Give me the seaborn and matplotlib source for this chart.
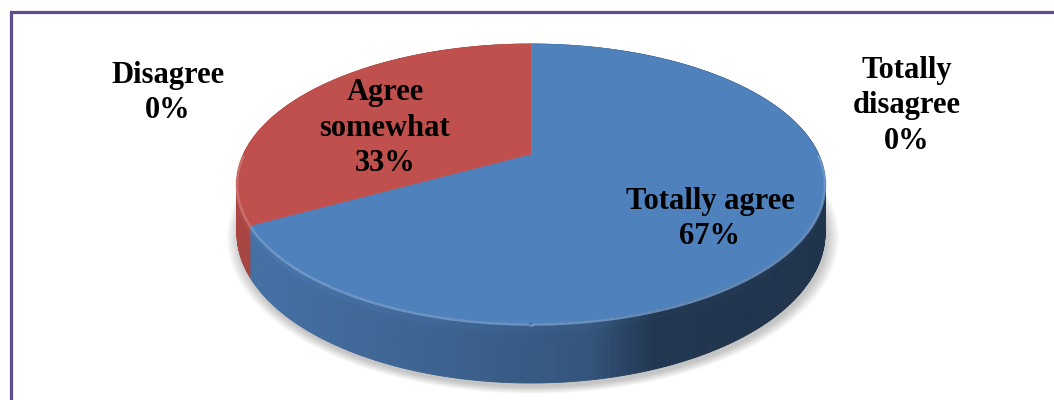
import numpy as np
import matplotlib
matplotlib.use("Agg")
import matplotlib.pyplot as plt
import seaborn as sns
from matplotlib.collections import PolyCollection, LineCollection
from matplotlib.patches import Polygon

# Survey answers and their shares (percent)
categories = ["Totally agree", "Agree somewhat", "Disagree", "Totally disagree"]
label_lines = ["Totally agree", "Agree\nsomewhat", "Disagree", "Totally\ndisagree"]
shares = [67, 33, 0, 0]
slice_hex = ["#4F81BD", "#C0504D", "#9BBB59", "#8064A2"]

sns.set_theme(style="white")
plt.rcParams["font.family"] = ["Liberation Serif", "DejaVu Serif"]
palette = np.array(sns.color_palette(slice_hex))

fig = plt.figure(figsize=(10.54, 4.0), dpi=100)
ax = fig.add_axes([0, 0, 1, 1])
ax.set_xlim(0, 1054)
ax.set_ylim(400, 0)
ax.axis("off")

# Perspective projection of a flat cylinder (pie disc) onto the canvas.
CX, CY = 531.0, 154.0
A, P, K = 287.4, -100.7, 0.2115
DEPTH = 47.3


def project(phi, z=0.0):
    """phi: angle clockwise from the back of the disc; z: 0 top face, 1 bottom."""
    u = np.sin(phi)
    v = np.cos(phi)
    w = 1.0 + K * v
    return CX + A * u / w, (CY + P * v + DEPTH * z) / w


fracs = np.asarray(shares, float) / np.sum(shares)
bounds = np.concatenate([[0.0], np.cumsum(fracs)]) * 2 * np.pi


def slice_of(phi):
    idx = np.searchsorted(bounds, phi, side="right") - 1
    return np.clip(idx, 0, len(shares) - 1)


# Soft drop shadow under the disc
bphi = np.linspace(0, 2 * np.pi, 400)
bx, by = project(bphi, 1.0)
bcx, bcy = bx.mean(), by.mean()
for i in range(10):
    grow = 1.0 + i * 0.0045
    sx = bcx + (bx - bcx) * grow + 2
    sy = bcy + (by - bcy) * grow + 4
    ax.add_patch(Polygon(np.column_stack([sx, sy]), closed=True,
                         facecolor="black", edgecolor="none", alpha=0.025, zorder=0))

# Side wall, shaded from left (lighter) to right (darker)
n = 720
phis = np.linspace(0, 2 * np.pi, n + 1)
zs = np.linspace(0, 1, 7)
polys, cols, depth_key = [], [], []
for a, b in zip(phis[:-1], phis[1:]):
    mid = 0.5 * (a + b)
    k = slice_of(mid)
    xm, _ = project(mid, 0.0)
    sxn = (xm - CX) / 294.0
    shade = np.interp(sxn, [-1, -0.3, 0.2, 0.42, 1], [0.88, 0.76, 0.65, 0.42, 0.40])
    for z0, z1 in zip(zs[:-1], zs[1:]):
        xa0, ya0 = project(a, z0)
        xb0, yb0 = project(b, z0)
        xa1, ya1 = project(a, z1)
        xb1, yb1 = project(b, z1)
        zc = 0.5 * (z0 + z1)
        f = shade * (1 + 0.16 * np.exp(-zc / 0.07))
        polys.append([(xa0, ya0), (xb0, yb0), (xb1, yb1), (xa1, ya1)])
        cols.append(np.clip(palette[k] * f, 0, 1))
        depth_key.append(-np.cos(mid))
order = np.argsort(depth_key, kind="stable")
polys = [polys[i] for i in order]
cols = [cols[i] for i in order]
ax.add_collection(PolyCollection(polys, facecolors=cols, edgecolors=cols,
                                 linewidths=0.6, zorder=2))

# Top face wedges
for k in range(len(shares)):
    t = np.linspace(bounds[k], bounds[k + 1], 200)
    ex, ey = project(t, 0.0)
    pts = np.vstack([[CX, CY], np.column_stack([ex, ey])])
    ax.add_patch(Polygon(pts, closed=True, facecolor=palette[k],
                         edgecolor=palette[k], linewidth=0.5, zorder=3))

# Light bevel along the front rim
rphi = np.linspace(np.pi / 2, 3 * np.pi / 2, 300)
rx, ry = project(rphi, 0.0)
segs, rcols = [], []
for i in range(len(rphi) - 1):
    k = slice_of(0.5 * (rphi[i] + rphi[i + 1]))
    light = palette[k] + (1 - palette[k]) * 0.25
    segs.append([(rx[i], ry[i] + 1.5), (rx[i + 1], ry[i + 1] + 1.5)])
    rcols.append((*light, 0.8))
ax.add_collection(LineCollection(segs, colors=rcols, linewidths=1.8, zorder=4))

# Data labels
label_xy = [(710, 219), (385, 128), (168, 93), (907, 106)]
for k, (lx, ly) in enumerate(label_xy):
    ax.text(lx, ly, f"{label_lines[k]}\n{shares[k]}%", ha="center", va="center",
            fontsize=22, fontweight="bold", color="black", linespacing=1.3, zorder=5)

# Chart frame
ax.plot([10.5, 10.5, 1070], [420, 11.5, 11.5], color="#5F4D8C", lw=2.3,
        solid_joinstyle="miter", clip_on=False, zorder=6)

fig.savefig("out.png", dpi=100, facecolor="white")
